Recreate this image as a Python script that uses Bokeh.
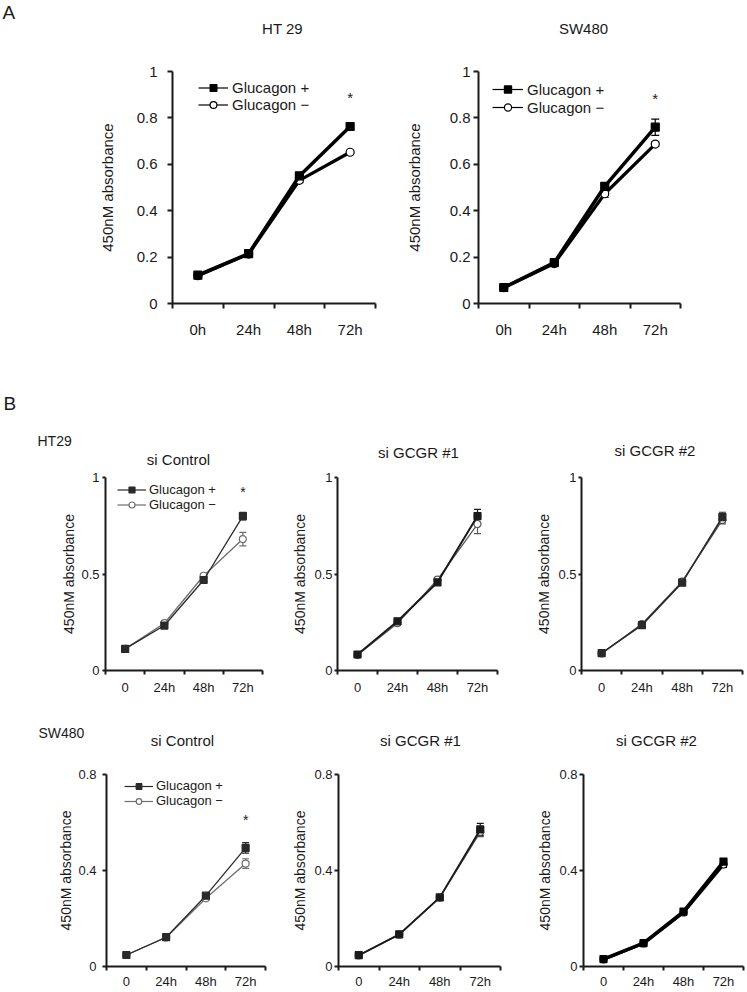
from bokeh.plotting import figure
from bokeh.models import (Range1d, FixedTicker, ColumnDataSource, Whisker, TeeHead,
                          Label, Legend, LegendItem)
from bokeh.layouts import column, row
from bokeh.embed import file_html
from bokeh.resources import INLINE

FONT = "Liberation Sans"
INK = "#1a1a1a"

# ---------------- data ----------------
times_A = ["0h", "24h", "48h", "72h"]
times_B = ["0", "24h", "48h", "72h"]
series_names = ["Glucagon +", "Glucagon \u2212"]

yticks_A = [0, 0.2, 0.4, 0.6, 0.8, 1]
ylabels_A = ["0", "0.2", "0.4", "0.6", "0.8", "1"]
yticks_HT29 = [0, 0.5, 1]
ylabels_HT29 = ["0", "0.5", "1"]
yticks_SW480 = [0, 0.4, 0.8]
ylabels_SW480 = ["0", "0.4", "0.8"]

# Panel A, HT 29
a_ht29_plus = [0.122, 0.215, 0.550, 0.763]
a_ht29_plus_err = [0.008, 0.006, 0.015, 0.008]
a_ht29_minus = [0.120, 0.213, 0.531, 0.652]
a_ht29_minus_err = [0.005, 0.005, 0.010, 0.006]
# Panel A, SW480
a_sw480_plus = [0.069, 0.176, 0.505, 0.760]
a_sw480_plus_err = [0.005, 0.008, 0.012, 0.035]
a_sw480_minus = [0.068, 0.172, 0.473, 0.687]
a_sw480_minus_err = [0.004, 0.006, 0.015, 0.010]

# Panel B, HT29
b_ht29_ctrl_plus = [0.112, 0.233, 0.469, 0.800]
b_ht29_ctrl_plus_err = [0.005, 0.010, 0.012, 0.020]
b_ht29_ctrl_minus = [0.112, 0.245, 0.491, 0.681]
b_ht29_ctrl_minus_err = [0.004, 0.008, 0.010, 0.035]
b_ht29_g1_plus = [0.083, 0.255, 0.457, 0.800]
b_ht29_g1_plus_err = [0.005, 0.010, 0.010, 0.035]
b_ht29_g1_minus = [0.080, 0.245, 0.471, 0.759]
b_ht29_g1_minus_err = [0.005, 0.008, 0.010, 0.050]
b_ht29_g2_plus = [0.090, 0.235, 0.455, 0.795]
b_ht29_g2_plus_err = [0.005, 0.010, 0.010, 0.025]
b_ht29_g2_minus = [0.088, 0.240, 0.460, 0.780]
b_ht29_g2_minus_err = [0.004, 0.010, 0.010, 0.020]

# Panel B, SW480
b_sw_ctrl_plus = [0.048, 0.122, 0.295, 0.494]
b_sw_ctrl_plus_err = [0.003, 0.005, 0.008, 0.022]
b_sw_ctrl_minus = [0.048, 0.121, 0.284, 0.429]
b_sw_ctrl_minus_err = [0.003, 0.004, 0.008, 0.020]
b_sw_g1_plus = [0.047, 0.134, 0.288, 0.571]
b_sw_g1_plus_err = [0.003, 0.005, 0.010, 0.025]
b_sw_g1_minus = [0.046, 0.133, 0.287, 0.561]
b_sw_g1_minus_err = [0.003, 0.004, 0.008, 0.020]
b_sw_g2_plus = [0.031, 0.097, 0.229, 0.437]
b_sw_g2_plus_err = [0.003, 0.004, 0.010, 0.012]
b_sw_g2_minus = [0.030, 0.096, 0.225, 0.425]
b_sw_g2_minus_err = [0.002, 0.004, 0.008, 0.012]

NAN = float("nan")


def make_panel(times, plus, plus_err, minus, minus_err, yticks, ylabels, title,
               box, st, star=None, legend=None, tags=()):
    # box: figure size and the pixel margins around the plotting area
    W, H, ml, mr, mt, mb = box
    n = len(times)
    ymax = yticks[-1]
    pxx = (W - ml - mr) / n
    pxy = (H - mt - mb) / ymax
    p = figure(width=W, height=H,
               x_range=Range1d(-ml / pxx, n + mr / pxx),
               y_range=Range1d(-mb / pxy, ymax + mt / pxy),
               output_backend="svg", toolbar_location=None, title_location=None,
               min_border=0, min_border_left=0, min_border_right=0,
               min_border_top=0, min_border_bottom=0)
    p.outline_line_color = None
    p.grid.visible = False
    p.background_fill_color = "white"
    p.border_fill_color = "white"

    centers = [i + 0.5 for i in range(n)]
    bounds = list(range(n + 1))

    # x axis: labels between boundary ticks
    xa = p.xaxis[0]
    xa.fixed_location = 0
    xa.bounds = (0, n)
    xa.ticker = FixedTicker(ticks=centers, minor_ticks=bounds)
    xa.major_label_overrides = {c: t for c, t in zip(centers, times)}
    xa.axis_line_color = INK
    xa.axis_line_width = st["axw"]
    xa.major_tick_line_color = None
    xa.major_tick_out = st["xtick"]
    xa.major_tick_in = 0
    xa.minor_tick_line_color = INK
    xa.minor_tick_line_width = st["axw"]
    xa.minor_tick_out = st["xtick"]
    xa.minor_tick_in = 0
    xa.major_label_standoff = st["xstand"]
    xa.major_label_text_font = FONT
    xa.major_label_text_font_size = st["tfs"]
    xa.major_label_text_color = INK

    ya = p.yaxis[0]
    ya.fixed_location = 0
    ya.bounds = (0, ymax)
    ya.ticker = FixedTicker(ticks=yticks)
    ya.major_label_overrides = dict(zip(yticks, ylabels))
    ya.axis_line_color = INK
    ya.axis_line_width = st["axw"]
    ya.major_tick_line_color = INK
    ya.major_tick_line_width = st["axw"]
    ya.major_tick_out = st["ytick"]
    ya.major_tick_in = 0
    ya.major_label_standoff = st["ystand"]
    ya.major_label_text_font = FONT
    ya.major_label_text_font_size = st["tfs"]
    ya.major_label_text_color = INK
    ya.axis_label = "450nM absorbance"
    ya.axis_label_text_font = FONT
    ya.axis_label_text_font_size = st["lfs"]
    ya.axis_label_text_font_style = "normal"
    ya.axis_label_text_color = INK
    ya.axis_label_standoff = st["lstand"]

    series = [
        (minus, minus_err, "circle", "white", st["cm"], st["lwm"]),
        (plus, plus_err, "square", st["cp"], st["cp"], st["lwp"]),
    ]
    for vals, errs, mk, fill, col, lw in series:
        src = ColumnDataSource(dict(
            x=centers, y=vals,
            lo=[v - e for v, e in zip(vals, errs)],
            hi=[v + e for v, e in zip(vals, errs)]))
        p.line("x", "y", source=src, line_color=col, line_width=lw)
        p.add_layout(Whisker(source=src, base="x", upper="hi", lower="lo",
                             line_color=col, line_width=1.2,
                             upper_head=TeeHead(size=st["head"], line_color=col, line_width=1.2),
                             lower_head=TeeHead(size=st["head"], line_color=col, line_width=1.2)))
        p.scatter("x", "y", source=src, marker=mk, size=st["ms"],
                  fill_color=fill, line_color=col, line_width=1.2)

    if legend is not None:
        vx, top, gw, gh, lfs, lstand, lms = legend
        items = []
        for name, mk, fill, col in [(series_names[0], "square", st["cp"], st["cp"]),
                                    (series_names[1], "circle", "white", st["cm"])]:
            # legend-only sample glyphs (no visible data)
            esrc = ColumnDataSource(dict(x=[NAN], y=[NAN]))
            r1 = p.line("x", "y", source=esrc, line_color=col, line_width=1.2)
            r2 = p.scatter("x", "y", source=esrc, marker=mk, size=lms,
                           fill_color=fill, line_color=col, line_width=1.2)
            items.append(LegendItem(label=name, renderers=[r1, r2]))
        lg = Legend(items=items, location=(ml + vx, H - mt - top - 2 * gh),
                    border_line_color=None, background_fill_alpha=0,
                    padding=0, spacing=0, margin=0,
                    glyph_width=gw, glyph_height=gh, label_height=gh,
                    label_standoff=lstand, label_text_font=FONT,
                    label_text_font_size=lfs, label_text_color=INK)
        p.add_layout(lg)

    # title
    tx, ty, tfs = title[1]
    p.add_layout(Label(x=n / 2, y=ymax, x_offset=tx, y_offset=ty, text=title[0],
                       text_font=FONT, text_font_size=tfs, text_color=INK,
                       text_align="center", text_baseline="middle"))
    # significance star above the Glucagon + error bar at the last time point
    if star is not None:
        p.add_layout(Label(x=centers[-1], y=plus[-1] + plus_err[-1], y_offset=star[0],
                           text="*", text_font=FONT, text_font_size=star[1],
                           text_color=INK, text_align="center", text_baseline="middle"))
    for txt, ox, oy, fs in tags:
        p.add_layout(Label(x=0, y=ymax, x_offset=ox, y_offset=oy, text=txt,
                           text_font=FONT, text_font_size=fs, text_color=INK,
                           text_align="left", text_baseline="middle"))
    return p


stA1 = dict(axw=2, xtick=5, xstand=12, ytick=5, ystand=10, tfs="15px", lfs="15px",
            lstand=18, cp="black", cm="black", lwp=3.5, lwm=3.2, ms=8, head=8)
stA2 = dict(stA1, ystand=3, lstand=24)

a1 = make_panel(times_A, a_ht29_plus, a_ht29_plus_err, a_ht29_minus, a_ht29_minus_err,
                yticks_A, ylabels_A, ("HT 29", (8.5, 43, "15px")),
                (405, 352, 172, 30, 71, 49), stA1, star=(27, "15px"),
                legend=(26, 7.5, 30, 17, "15px", 4, 6), tags=[("A", -170, 59.5, "19px")])
a2 = make_panel(times_A, a_sw480_plus, a_sw480_plus_err, a_sw480_minus, a_sw480_minus_err,
                yticks_A, ylabels_A, ("SW480", (4, 43, "15px")),
                (342, 352, 73, 67, 71, 49), stA2, star=(21, "15px"),
                legend=(14, 9, 31, 18, "15px", 4, 6))

stB = dict(axw=2, xtick=4, xstand=5, ytick=3, ystand=3, tfs="13px", lfs="14px",
           lstand=1, cp="#2a2a2a", cm="#6e6e6e", lwp=1.3, lwm=1.3, ms=7, head=7)
stB12 = dict(stB, ystand=2, lstand=3, lwp=2.0, cp="#1a1a1a", cm="#5a5a5a")
stB13 = dict(stB, ystand=2, lstand=3, lwp=1.6, lwm=1.4, cp="#2a2a2a", cm="#4a4a4a")

boxB11 = (292, 346, 105, 30, 125, 28)
boxB12 = (244, 346, 45, 39, 125, 28)
boxB13 = (211, 346, 45, 5, 125, 28)

b11 = make_panel(times_B, b_ht29_ctrl_plus, b_ht29_ctrl_plus_err, b_ht29_ctrl_minus,
                 b_ht29_ctrl_minus_err, yticks_HT29, ylabels_HT29,
                 ("si Control", (-5.5, 18, "15px")), boxB11, stB, star=(20, "14px"),
                 legend=(12, 4.5, 29, 15, "13px", 3, 7),
                 tags=[("B", -102, 74, "19px"), ("HT29", -68, 37, "14px")])
b12 = make_panel(times_B, b_ht29_g1_plus, b_ht29_g1_plus_err, b_ht29_g1_minus,
                 b_ht29_g1_minus_err, yticks_HT29, ylabels_HT29,
                 ("si GCGR #1", (1, 25, "15px")), boxB12, stB12)
b13 = make_panel(times_B, b_ht29_g2_plus, b_ht29_g2_plus_err, b_ht29_g2_minus,
                 b_ht29_g2_minus_err, yticks_HT29, ylabels_HT29,
                 ("si GCGR #2", (-7, 27, "15px")), boxB13, stB13)

stB21 = dict(stB, ytick=4, ystand=6, lstand=1, xstand=3)
stB22 = dict(stB, ytick=4, ystand=2, lstand=3, xstand=3, lwp=1.8, lwm=1.5,
             cp="#1a1a1a", cm="#4a4a4a")
stB23 = dict(stB, ytick=4, ystand=2, lstand=3, xstand=3, lwp=3.5, lwm=3.0,
             cp="black", cm="black")

boxB21 = (292, 294, 106, 27, 76, 26)
boxB22 = (244, 294, 46, 36, 76, 26)
boxB23 = (211, 294, 47, 4, 76, 26)

b21 = make_panel(times_B, b_sw_ctrl_plus, b_sw_ctrl_plus_err, b_sw_ctrl_minus,
                 b_sw_ctrl_minus_err, yticks_SW480, ylabels_SW480,
                 ("si Control", (-3.5, 34, "15px")), boxB21, stB21, star=(23, "14px"),
                 legend=(18, 6, 29, 14, "13px", 3, 7),
                 tags=[("SW480", -68, 42, "14px")])
b22 = make_panel(times_B, b_sw_g1_plus, b_sw_g1_plus_err, b_sw_g1_minus,
                 b_sw_g1_minus_err, yticks_SW480, ylabels_SW480,
                 ("si GCGR #1", (1, 34, "15px")), boxB22, stB22)
b23 = make_panel(times_B, b_sw_g2_plus, b_sw_g2_plus_err, b_sw_g2_minus,
                 b_sw_g2_minus_err, yticks_SW480, ylabels_SW480,
                 ("si GCGR #2", (-7, 34, "15px")), boxB23, stB23)

layout = column(row(a1, a2), row(b11, b12, b13), row(b21, b22, b23))

open("out.html", "w").write(file_html(layout, INLINE))
